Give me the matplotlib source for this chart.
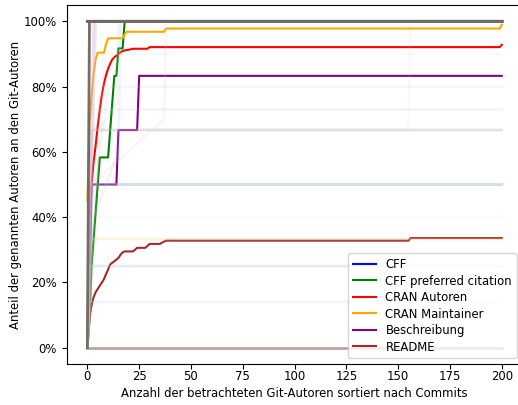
import matplotlib
matplotlib.use("Agg")
import matplotlib.pyplot as plt
from matplotlib.ticker import PercentFormatter

# Hauptlinien: Stützpunkte (Index des Git-Autors, Anteil in %)
cff_x = [0, 200]
cff_y = [100, 100]

cff_pref_x = [0, 1, 2, 3, 4, 5, 6, 10, 11, 12, 13, 14, 15, 17, 18, 200]
cff_pref_y = [0, 8.3, 25, 33.3, 41.7, 50, 58.3, 58.3, 66.7, 75, 83.3, 83.3, 91.7, 91.7, 100, 100]

cran_aut_x = [0, 1, 2, 3, 4, 5, 6, 7, 8, 9, 10, 11, 12, 13, 14, 15, 16, 17, 18, 20, 22, 29, 30, 199, 200]
cran_aut_y = [5, 38, 50, 57, 62, 68, 73, 77.5, 81, 83.5, 85.5, 87, 88.3, 89, 89.5, 90, 90.5, 90.9,
              91.1, 91.3, 91.6, 91.6, 92.1, 92.1, 92.8]

cran_mnt_x = [0, 1, 2, 3, 4, 5, 8, 9, 10, 17, 18, 19, 37, 38, 199, 200]
cran_mnt_y = [45, 68, 77, 84, 88.5, 90.4, 90.4, 93, 94.8, 94.8, 96, 96.8, 96.8, 97.8, 97.8, 99]

beschr_x = [0, 1, 2, 14, 15, 24, 25, 200]
beschr_y = [0, 16.7, 50, 50, 66.7, 66.7, 83.3, 83.3]

readme_x = [0, 1, 2, 3, 4, 5, 6, 7, 8, 9, 10, 11, 12, 13, 14, 15, 16, 17, 18, 22, 23, 24, 28,
            29, 30, 35, 36, 37, 38, 155, 156, 200]
readme_y = [0, 9, 13, 15.5, 17, 18, 19, 20, 21, 22.5, 24, 25.5, 26, 26.5, 27, 27.5, 28.5, 29.2,
            29.5, 29.5, 30, 30.6, 30.6, 31.2, 31.8, 31.8, 32.2, 32.5, 32.8, 32.8, 33.6, 33.6]

labels = ["CFF", "CFF preferred citation", "CRAN Autoren", "CRAN Maintainer",
          "Beschreibung", "README"]
main_x = [cff_x, cff_pref_x, cran_aut_x, cran_mnt_x, beschr_x, readme_x]
main_y = [cff_y, cff_pref_y, cran_aut_y, cran_mnt_y, beschr_y, readme_y]
main_colors = ["blue", "green", "red", "orange", "purple", "brown"]

# einzelne Pakete im Hintergrund (blass)
bg_x = [
    [0, 200], [0, 1, 2, 200], [0, 1, 200], [0, 1, 200], [0, 2, 200],
    [0, 1, 200], [0, 3, 200], [0, 4, 200], [0, 2, 10, 200], [0, 1, 7, 8, 200],
    [0, 3, 15, 16, 200], [0, 2, 37, 38, 200], [0, 5, 200], [0, 1, 200],
    [0, 6, 14, 15, 200], [0, 1, 155, 156, 200], [0, 1, 200], [0, 200],
]
bg_y = [
    [0, 0], [0, 33.3, 66.7, 66.7], [0, 50, 50], [0, 25, 25], [0, 33.3, 33.3],
    [0, 14, 14], [0, 100, 100], [0, 100, 100], [0, 40, 80, 80], [0, 60, 75, 90, 90],
    [0, 40, 60, 100, 100], [0, 50, 70, 100, 100], [0, 40, 40], [0, 73, 73],
    [0, 66.7, 75, 100, 100], [0, 66.7, 66.7, 100, 100], [0, 100, 100], [100, 100],
]
bg_colors = ["#a8908a", "#b0b0b0", "#9fb4c0", "#a9c0cc", "#f5d98a",
             "#d8d8e8", "#e0b0c8", "#c8b8e0", "#c8c8c8", "#d0e0c8",
             "#a8d0e0", "#f0c0c0", "#e8e8c0", "#c0c0c0",
             "#b0d8b0", "#c8c8f0", "#6f6a63", "#6f6a63"]
bg_alpha = [0.8, 0.35, 0.45, 0.3, 0.3, 0.25, 0.35, 0.35, 0.15, 0.15,
            0.2, 0.15, 0.15, 0.15, 0.15, 0.1, 0.97, 0.97]

fig = plt.figure(figsize=(5.18, 4.05), dpi=100)
ax = fig.add_axes([0.1287, 0.1012, 0.88, 0.8864])

for xs, ys, c, lab in zip(main_x, main_y, main_colors, labels):
    ax.plot(xs, ys, color=c, lw=1.5, label=lab)

for xs, ys, c, a in zip(bg_x, bg_y, bg_colors, bg_alpha):
    ax.plot(xs, ys, color=c, alpha=a, lw=2.0)

ax.set_xlim(-10, 210)
ax.set_ylim(-5, 105)
ax.set_xticks(range(0, 201, 25))
ax.set_yticks(range(0, 101, 20))
ax.yaxis.set_major_formatter(PercentFormatter(xmax=100, decimals=0))
ax.tick_params(labelsize=8.4)
ax.tick_params(axis="x", pad=1)
ax.set_xlabel("Anzahl der betrachteten Git-Autoren sortiert nach Commits", fontsize=8.4, labelpad=3)
ax.set_ylabel("Anteil der genannten Autoren an den Git-Autoren", fontsize=8.4, labelpad=1.5)
ax.legend(loc="lower right", fontsize=8.4, labelspacing=0.3)

fig.savefig("out.png", dpi=100)
